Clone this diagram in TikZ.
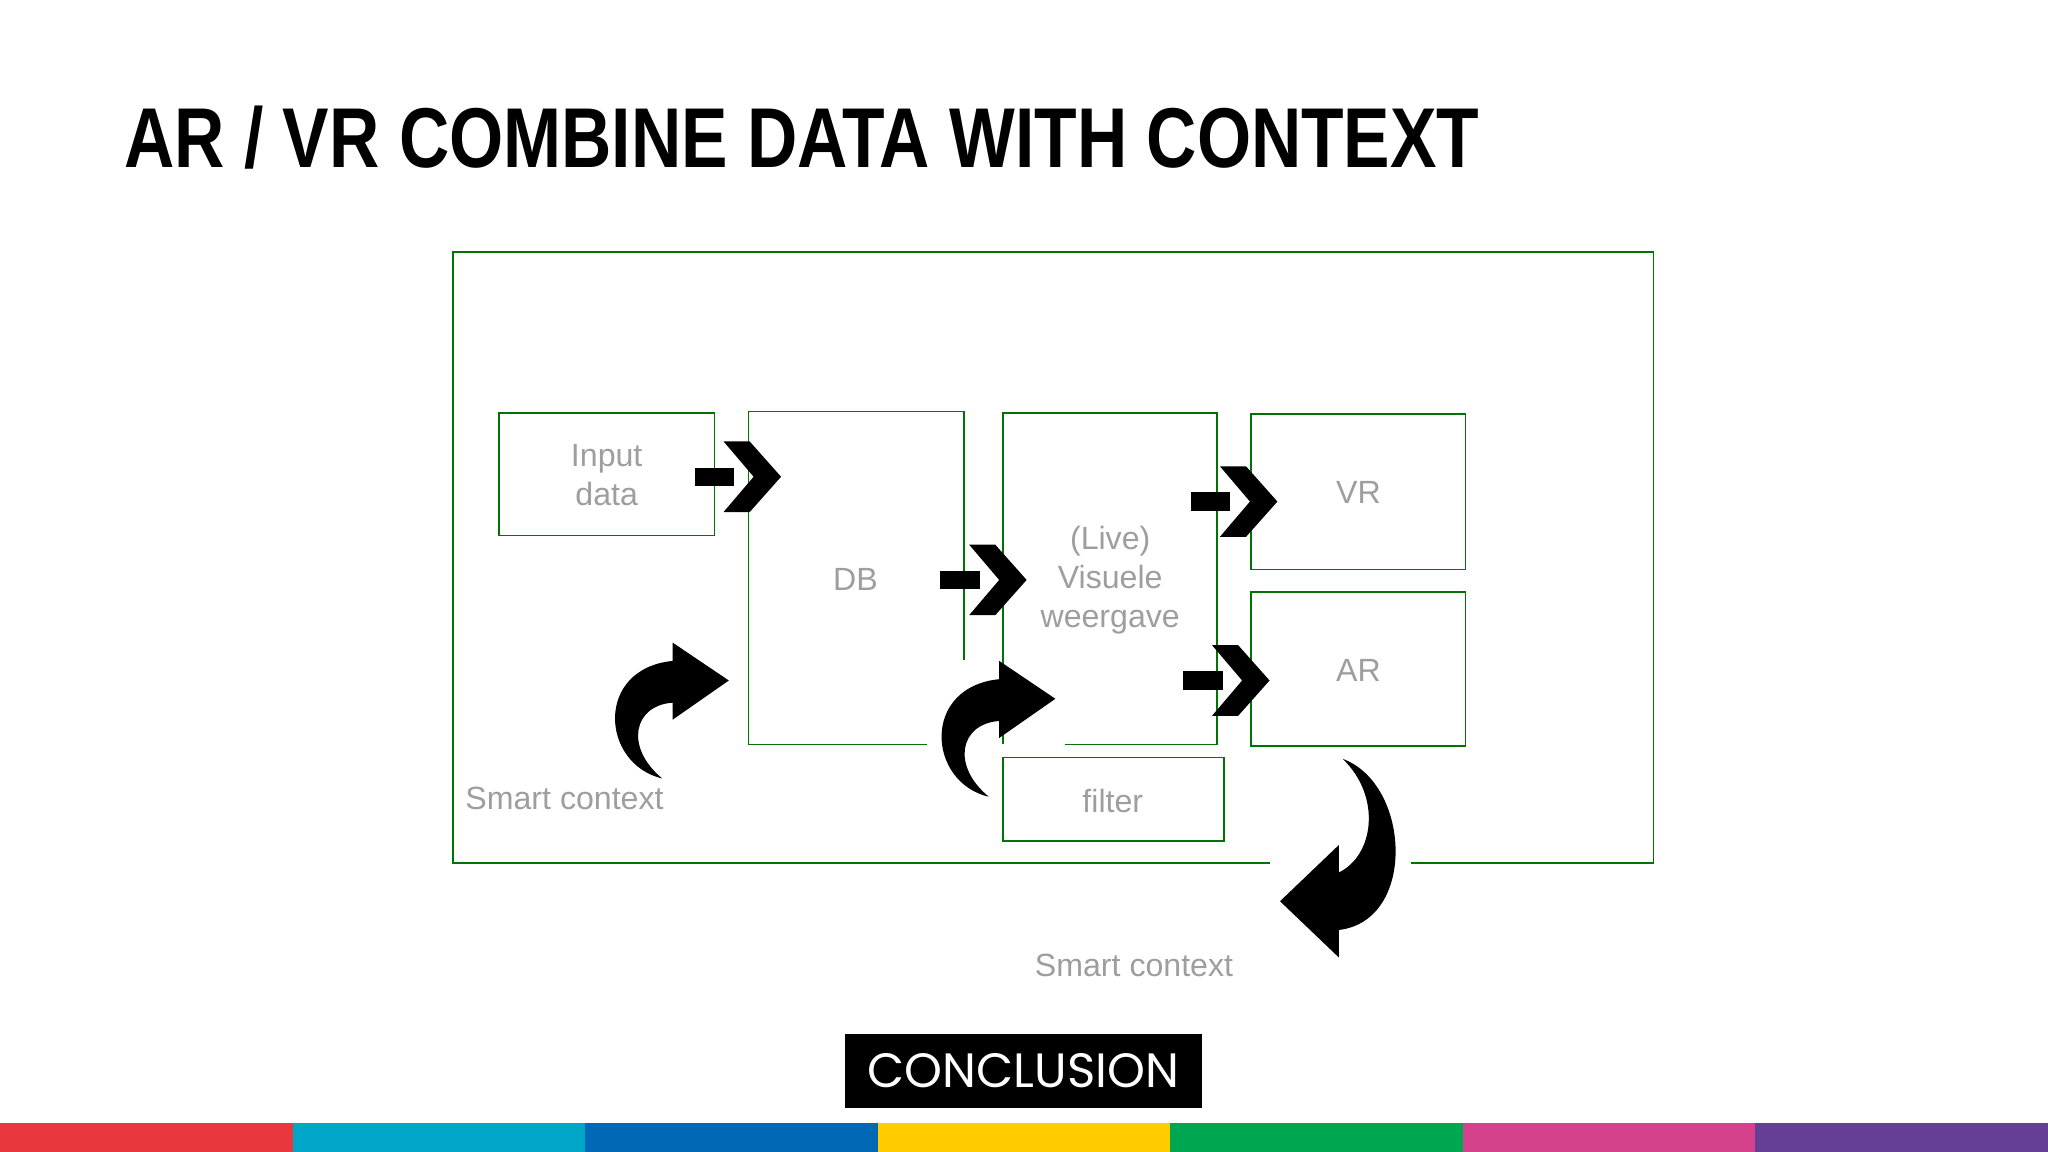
\documentclass[tikz,border=0pt]{standalone}
\usepackage{fontspec}
\setmainfont{Liberation Sans}
\newfontfamily\logofont{Poppins}
\begin{document}
\begin{tikzpicture}[x=0.02cm,y=-0.02cm,
  box/.style={draw=green!45!black,line width=0.8pt},
  lbl/.style={text=black!38,font=\fontsize{14}{17}\selectfont,align=center},
  sarrow/.pic={\fill[black] (0,-7) rectangle (30,7); \fill[black] (22,-27) -- (42,-27) -- (66,0) -- (42,27) -- (22,27) -- (45,0) -- cycle;}]
\useasboundingbox (0,0) rectangle (1568,882);
% title
\node[anchor=base west,inner sep=0,font=\bfseries\fontsize{37}{40}\selectfont,xscale=0.82] (title) at (95,128) {AR / VR COMBINE DATA WITH CONTEXT};
% outer frame with gap
\draw[box] (972,661) -- (347,661) -- (347,193) -- (1266,193) -- (1266,661) -- (1080,661);
% boxes
\draw[box] (382,316) rectangle (547,410);
\node[lbl] (input) at (464.5,364) {Input\\data};
\draw[box] (738,505) -- (738,315) -- (573,315) -- (573,570) -- (710,570);
\node[lbl] (db) at (655,444) {DB};
\draw[box] (815,570) -- (932,570) -- (932,316) -- (768,316) -- (768,570);
\node[lbl] (vis) at (850,444) {(Live)\\Visuele\\weergave};
\draw[box] (958,317) rectangle (1122,436);
\node[lbl] (vr) at (1040,377) {VR};
\draw[box] (958,453) rectangle (1122,571);
\node[lbl] (ar) at (1040,513) {AR};
\draw[box] (768,580) rectangle (937,644);
\node[lbl] (filter) at (852,613) {filter};
\node[lbl,anchor=west,inner sep=0] (sc1) at (356,611) {Smart context};
\node[lbl,anchor=west,inner sep=0] (sc2) at (792,739) {Smart context};
% straight arrows
\pic at (532,365) {sarrow};
\pic at (720,444) {sarrow};
\pic at (912,384) {sarrow};
\pic at (906,521) {sarrow};
% curved arrows
\foreach \dx/\dy in {0/0,250/14}{
\fill[black,shift={(\dx,\dy)}] (507,596) .. controls (460,585) and (455,512) .. (515,506) -- (515,492) -- (558,521) -- (515,551) -- (515,538) .. controls (485,540) and (478,572) .. (507,596) -- cycle;}
\fill[black] (1028,581) .. controls (1080,600) and (1085,705) .. (1025,712) -- (1025,733) -- (980,690) -- (1025,647) -- (1025,668) .. controls (1052,655) and (1058,610) .. (1028,581) -- cycle;
% logo
\fill[black] (647,792) rectangle (920,848);
\node[text=white,font=\logofont\fontsize{21}{24}\selectfont] (logo) at (783.5,820) {CONCLUSION};
% colour bar
\foreach \c [count=\i from 0] in {E8383D,00A6C8,0068B4,FFCC00,00A650,D6418E,653E96}{
  \definecolor{bar}{HTML}{\c}
  \fill[bar] (\i*224,860) rectangle (\i*224+224,882);}
\end{tikzpicture}
\end{document}
